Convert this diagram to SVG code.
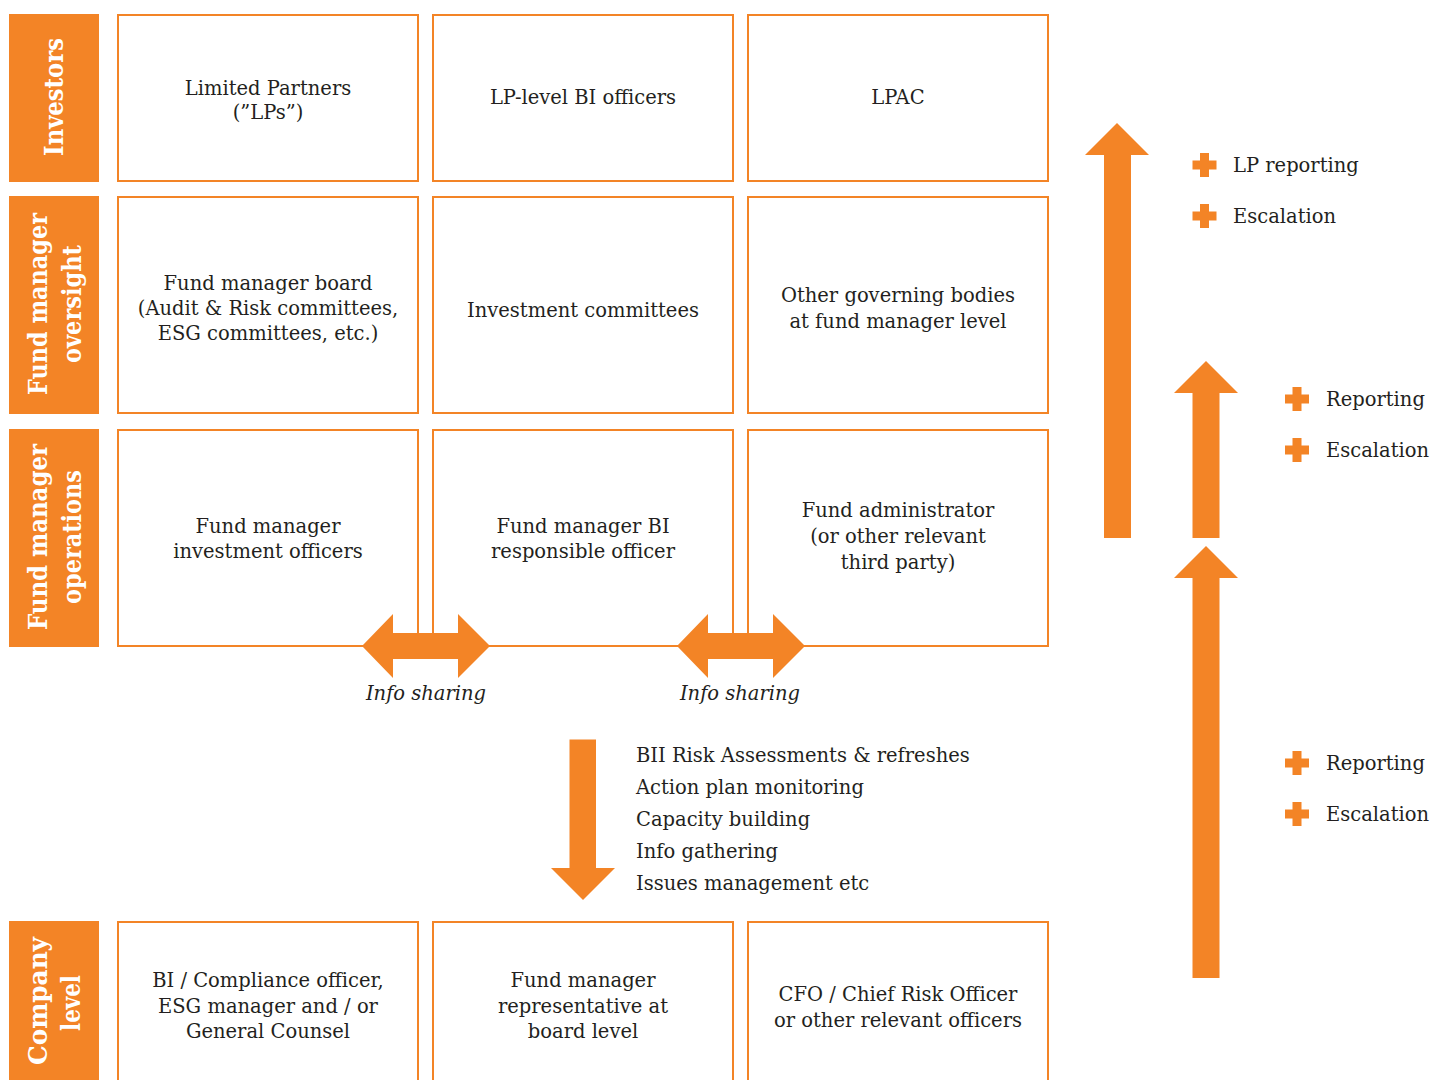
<svg xmlns="http://www.w3.org/2000/svg" width="1432" height="1080" viewBox="0 0 1432 1080">
<style>
.side{fill:#F38426}
.box{fill:#fff;stroke:#F38426;stroke-width:2}
.lbl{font-family:"DejaVu Serif","Liberation Serif",serif;font-weight:bold;font-size:26px;fill:#fff;text-anchor:middle}
.t{font-family:"DejaVu Serif","Liberation Serif",serif;font-size:19.5px;fill:#231F20;text-anchor:middle}
.l{font-family:"DejaVu Serif","Liberation Serif",serif;font-size:19.5px;fill:#231F20}
.it{font-family:"DejaVu Serif","Liberation Serif",serif;font-style:italic;font-size:19.5px;fill:#231F20;text-anchor:middle}
.arr{fill:#F38426}
</style>
<defs>
<path id="plus" d="M-4.5,-12H4.5V-4.5H12V4.5H4.5V12H-4.5V4.5H-12V-4.5H-4.5Z" fill="#F38426"/>
</defs>
<rect width="1432" height="1080" fill="#fff"/>

<g id="side-investors"><rect class="side" x="9" y="14" width="90" height="168"/>
<text class="lbl" transform="translate(63,97) rotate(-90)" textLength="118" lengthAdjust="spacingAndGlyphs">Investors</text></g>
<g id="side-oversight"><rect class="side" x="9" y="196" width="90" height="218"/>
<text class="lbl" transform="translate(47,304) rotate(-90)" textLength="182" lengthAdjust="spacingAndGlyphs">Fund manager</text>
<text class="lbl" transform="translate(81,304) rotate(-90)" textLength="118" lengthAdjust="spacingAndGlyphs">oversight</text></g>
<g id="side-operations"><rect class="side" x="9" y="429" width="90" height="218"/>
<text class="lbl" transform="translate(47,537) rotate(-90)" textLength="186" lengthAdjust="spacingAndGlyphs">Fund manager</text>
<text class="lbl" transform="translate(81,537) rotate(-90)" textLength="134" lengthAdjust="spacingAndGlyphs">operations</text></g>
<g id="side-company"><rect class="side" x="9" y="921" width="90" height="160"/>
<text class="lbl" transform="translate(47,1001) rotate(-90)" textLength="128" lengthAdjust="spacingAndGlyphs">Company</text>
<text class="lbl" transform="translate(80,1003) rotate(-90)" textLength="56" lengthAdjust="spacingAndGlyphs">level</text></g>

<g id="n-lps"><rect class="box" x="118" y="15" width="300" height="166"/>
<text class="t" x="268" y="95">Limited Partners</text><text class="t" x="268" y="119">(”LPs”)</text></g>
<g id="n-lpbi"><rect class="box" x="433" y="15" width="300" height="166"/>
<text class="t" x="583" y="104">LP-level BI officers</text></g>
<g id="n-lpac"><rect class="box" x="748" y="15" width="300" height="166"/>
<text class="t" x="898" y="104">LPAC</text></g>

<g id="n-board"><rect class="box" x="118" y="197" width="300" height="216"/>
<text class="t" x="268" y="290">Fund manager board</text><text class="t" x="268" y="315">(Audit &amp; Risk committees,</text><text class="t" x="268" y="340">ESG committees, etc.)</text></g>
<g id="n-invcom"><rect class="box" x="433" y="197" width="300" height="216"/>
<text class="t" x="583" y="317">Investment committees</text></g>
<g id="n-othergov"><rect class="box" x="748" y="197" width="300" height="216"/>
<text class="t" x="898" y="302">Other governing bodies</text><text class="t" x="898" y="328">at fund manager level</text></g>

<g id="n-invoff"><rect class="box" x="118" y="430" width="300" height="216"/>
<text class="t" x="268" y="533">Fund manager</text><text class="t" x="268" y="558">investment officers</text></g>
<g id="n-bioff"><rect class="box" x="433" y="430" width="300" height="216"/>
<text class="t" x="583" y="533">Fund manager BI</text><text class="t" x="583" y="558">responsible officer</text></g>
<g id="n-admin"><rect class="box" x="748" y="430" width="300" height="216"/>
<text class="t" x="898" y="517">Fund administrator</text><text class="t" x="898" y="543">(or other relevant</text><text class="t" x="898" y="569">third party)</text></g>

<g id="n-compliance"><rect class="box" x="118" y="922" width="300" height="170"/>
<text class="t" x="268" y="987">BI / Compliance officer,</text><text class="t" x="268" y="1013">ESG manager and / or</text><text class="t" x="268" y="1038">General Counsel</text></g>
<g id="n-rep"><rect class="box" x="433" y="922" width="300" height="170"/>
<text class="t" x="583" y="987">Fund manager</text><text class="t" x="583" y="1013">representative at</text><text class="t" x="583" y="1038">board level</text></g>
<g id="n-cfo"><rect class="box" x="748" y="922" width="300" height="170"/>
<text class="t" x="898" y="1001">CFO / Chief Risk Officer</text><text class="t" x="898" y="1027">or other relevant officers</text></g>

<g id="connectors">
<polygon class="arr" points="362,646 393,614 393,633 458,633 458,614 490,646 458,678 458,659 393,659 393,678"/>
<polygon class="arr" points="677,646 708,614 708,633 773,633 773,614 805,646 773,678 773,659 708,659 708,678"/>
<text class="it" x="426" y="700">Info sharing</text>
<text class="it" x="740" y="700">Info sharing</text>
<polygon class="arr" points="569.5,739.5 596,739.5 596,868 615,868 583,900 551,868 569.5,868"/>
<polygon class="arr" points="1117,123 1149,155 1131,155 1131,538 1104,538 1104,155 1085,155"/>
<polygon class="arr" points="1206,361 1238,393 1219.5,393 1219.5,538 1192.5,538 1192.5,393 1174,393"/>
<polygon class="arr" points="1206,546 1238,578 1219.5,578 1219.5,978 1192.5,978 1192.5,578 1174,578"/>
</g>

<g id="list-down">
<text class="l" x="636" y="762">BII Risk Assessments &amp; refreshes</text>
<text class="l" x="636" y="794">Action plan monitoring</text>
<text class="l" x="636" y="826">Capacity building</text>
<text class="l" x="636" y="858">Info gathering</text>
<text class="l" x="636" y="890">Issues management etc</text>
</g>

<g id="legend-1">
<use href="#plus" x="1204.5" y="165"/><text class="l" x="1233" y="172">LP reporting</text>
<use href="#plus" x="1204.5" y="216"/><text class="l" x="1233" y="223">Escalation</text>
</g>
<g id="legend-2">
<use href="#plus" x="1297" y="399"/><text class="l" x="1326" y="406">Reporting</text>
<use href="#plus" x="1297" y="450"/><text class="l" x="1326" y="457">Escalation</text>
</g>
<g id="legend-3">
<use href="#plus" x="1297" y="763"/><text class="l" x="1326" y="770">Reporting</text>
<use href="#plus" x="1297" y="814"/><text class="l" x="1326" y="821">Escalation</text>
</g>
</svg>
